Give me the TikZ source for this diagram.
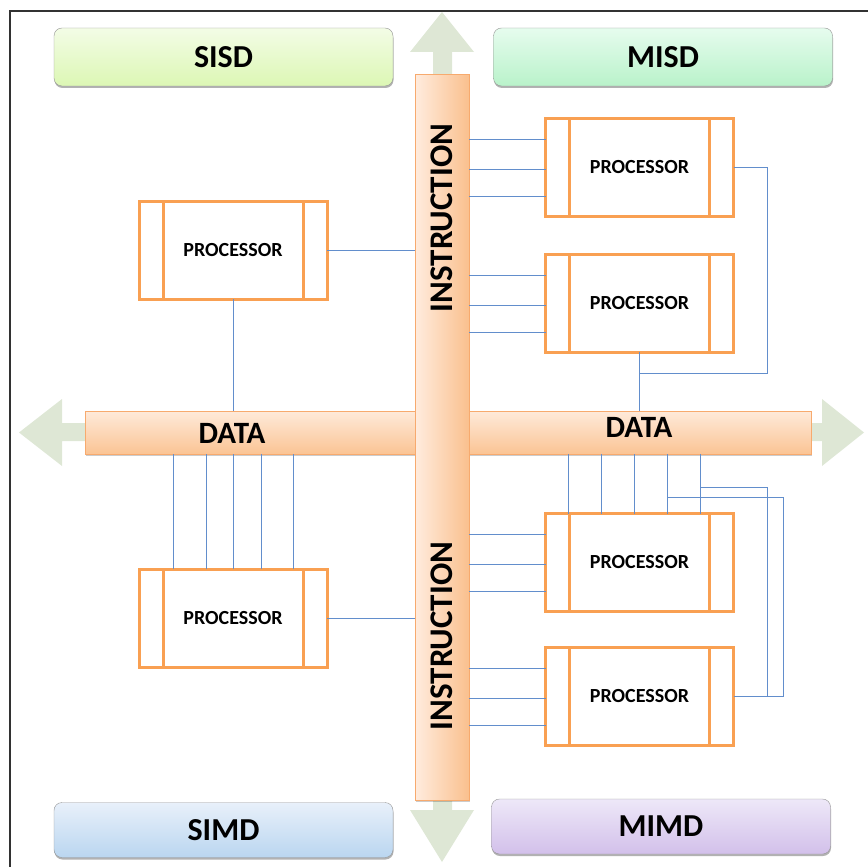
\documentclass[tikz,border=0pt]{standalone}
\usepackage{fontspec}
\setmainfont{Carlito}
\usepackage{tikz}
\usetikzlibrary{scopes,shadows,positioning}
\definecolor{procorange}{RGB}{249,160,82}
\definecolor{wireblue}{RGB}{98,142,204}
\definecolor{arrowgreen}{RGB}{222,231,213}
\definecolor{barline}{RGB}{247,170,110}
\definecolor{boxgray}{RGB}{150,150,150}
\definecolor{frameline}{RGB}{50,50,50}
\definecolor{databartop}{RGB}{254,234,218}
\definecolor{databarbot}{RGB}{251,196,148}
\definecolor{instrleft}{RGB}{255,236,222}
\definecolor{instrright}{RGB}{250,192,142}
\definecolor{sisdtop}{RGB}{243,252,230}
\definecolor{sisdbot}{RGB}{220,247,180}
\definecolor{misdtop}{RGB}{230,252,238}
\definecolor{misdbot}{RGB}{185,242,202}
\definecolor{simdtop}{RGB}{232,240,250}
\definecolor{simdbot}{RGB}{186,214,240}
\definecolor{mimdtop}{RGB}{238,232,248}
\definecolor{mimdbot}{RGB}{210,192,234}
\tikzset{
  classbox/.style={draw=boxgray,rounded corners=8pt,minimum width=339,minimum height=58,
    font=\fontsize{32}{32}\selectfont\bfseries,
    drop shadow={shadow xshift=0.5pt,shadow yshift=-2pt,fill=black,opacity=0.3}},
  proc/.style={draw=procorange,line width=3pt,fill=white,minimum width=188,minimum height=98,
    outer sep=0pt,font=\fontsize{20}{20}\selectfont\bfseries},
  procside/.style={procorange,line width=3pt},
  bar/.style={draw=barline,line width=1pt,outer sep=0pt,inner sep=0pt,
    drop shadow={shadow xshift=1pt,shadow yshift=-1.5pt,fill=black,opacity=0.2}},
  barlabel/.style={font=\fontsize{31}{31}\selectfont\bfseries,inner sep=0pt},
  bigarrow/.style={fill=arrowgreen},
  wire/.style={wireblue,line width=1pt}
}
\begin{document}
\begin{tikzpicture}[x=1pt,y=-1pt]
  \useasboundingbox (0,0) rectangle (868,867);
  \draw[frameline,line width=1.3pt] (10,867) -- (10,11) -- (868,11);
  % arrow heads of the two buses
  \fill[bigarrow] (433,90) -- (433,52) -- (410,52) -- (442,12) -- (474,52) -- (452,52) -- (452,90) -- cycle;
  \fill[bigarrow] (433,790) -- (433,810) -- (410,810) -- (442,862) -- (474,810) -- (452,810) -- (452,790) -- cycle;
  \fill[bigarrow] (100,423) -- (62,423) -- (62,399) -- (19,432.5) -- (62,466) -- (62,441) -- (100,441) -- cycle;
  \fill[bigarrow] (800,423) -- (822,423) -- (822,399) -- (864,432.5) -- (822,466) -- (822,441) -- (800,441) -- cycle;
  \node[bar,top color=databartop,bottom color=databarbot,minimum width=726,minimum height=43] (data) at (448,432.5) {};
  \node[bar,left color=instrleft,right color=instrright,minimum width=54,minimum height=725] (instr) at (442,437.5) {};
  \node[barlabel] (datal) at (232,433) {DATA};
  \node[barlabel] (datar) at (639,427) {DATA};
  \node[barlabel,font=\fontsize{33}{33}\selectfont\bfseries,rotate=90] (instrt) at (442,218) {INSTRUCTION};
  \node[barlabel,font=\fontsize{33}{33}\selectfont\bfseries,rotate=90] (instrb) at (442,636) {INSTRUCTION};
  % the four classes
  \node[classbox,top color=sisdtop,bottom color=sisdbot] (sisd) at (223.5,57) {SISD};
  \node[classbox,top color=misdtop,bottom color=misdbot] (misd) at (663,57) {MISD};
  \node[classbox,top color=simdtop,bottom color=simdbot,minimum height=55] (simd) at (223.5,830) {SIMD};
  \node[classbox,top color=mimdtop,bottom color=mimdbot,minimum height=55] (mimd) at (661,826.5) {MIMD};
  % processors
  \node[proc] (psisd) at (233,250) {PROCESSOR};
  \node[proc] (pmisda) at (639.5,167.5) {PROCESSOR};
  \node[proc] (pmisdb) at (639.5,303) {PROCESSOR};
  \node[proc] (psimd) at (233,618) {PROCESSOR};
  \node[proc] (pmimda) at (639.5,562.5) {PROCESSOR};
  \node[proc] (pmimdb) at (639.5,696.5) {PROCESSOR};
  \foreach \p in {psisd,pmisda,pmisdb,psimd,pmimda,pmimdb} {
    \draw[procside] ([xshift=24pt]\p.north west) -- ([xshift=24pt]\p.south west);
    \draw[procside] ([xshift=-24pt]\p.north east) -- ([xshift=-24pt]\p.south east);
  }
  \coordinate (tapa) at (667,497);
  \coordinate (tapb) at (701,487);
  {[wire]
    \draw (psisd.east) -- (psisd.east -| instr.west);
    \draw (psisd.south) -- (psisd.south |- data.north);
    \draw (psimd.east) -- (psimd.east -| instr.west);
    \foreach \d in {-60,-27,0,28,60}
      \draw ([xshift=\d pt]psimd.north) -- ([xshift=\d pt]psimd.north |- data.south);
    \foreach \d in {-71,-38,-5,28,61}
      \draw ([xshift=\d pt]pmimda.north) -- ([xshift=\d pt]pmimda.north |- data.south);
    \foreach \p in {pmisda,pmisdb,pmimda,pmimdb}
      \foreach \d in {28,-2,-29}
        \draw ([yshift=\d pt]\p.west) -- ([yshift=\d pt]\p.west -| instr.east);
    \draw (pmisda.east) -- ++(34,0) |- ([yshift=-21pt]pmisdb.south);
    \draw (pmisdb.south) -- (pmisdb.south |- data.north);
    \draw (tapa) -- ++(116,0) |- (pmimdb.east);
    \draw (tapb) -- ++(66,0) |- (pmimdb.east);
  }
\end{tikzpicture}
\end{document}
